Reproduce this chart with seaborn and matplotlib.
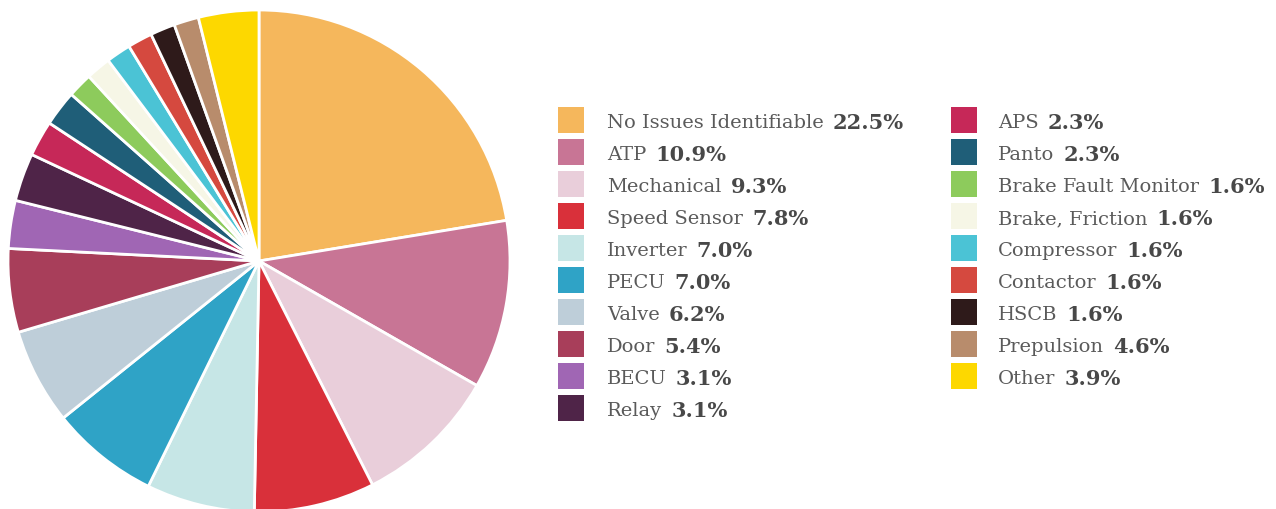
import matplotlib
matplotlib.use("Agg")
import matplotlib.pyplot as plt
import seaborn as sns
from matplotlib.patches import Rectangle

categories = ["No Issues Identifiable", "ATP", "Mechanical", "Speed Sensor", "Inverter",
              "PECU", "Valve", "Door", "BECU", "Relay", "APS", "Panto",
              "Brake Fault Monitor", "Brake, Friction", "Compressor", "Contactor",
              "HSCB", "Prepulsion", "Other"]
# slice sizes as drawn in the pie
values = [22.5, 10.9, 9.3, 7.8, 7.0, 7.0, 6.2, 5.4, 3.1, 3.1, 2.3, 2.3,
          1.6, 1.6, 1.6, 1.6, 1.6, 1.6, 3.9]
# percentages as printed in the legend
pct_labels = ["22.5%", "10.9%", "9.3%", "7.8%", "7.0%", "7.0%", "6.2%", "5.4%",
              "3.1%", "3.1%", "2.3%", "2.3%", "1.6%", "1.6%", "1.6%", "1.6%",
              "1.6%", "4.6%", "3.9%"]
colors = ["#F5B75C", "#C87595", "#E9CEDA", "#D9303A", "#C6E6E6", "#2FA3C6",
          "#BECED9", "#A83E5A", "#A066B4", "#4F2448", "#C62858", "#1F5E78",
          "#8DCB5C", "#F6F6E6", "#4BC3D5", "#D5493F", "#2E1A1A", "#B88C6C",
          "#FDD800"]

sns.set_theme(style="white")
plt.rcParams['font.family'] = ['DejaVu Serif']

W, H = 1276, 510
fig = plt.figure(figsize=(W / 100, H / 100), dpi=100)
fig.patch.set_facecolor("white")

cx, cy, r = 259, 262, 251
ax = fig.add_axes([(cx - r) / W, (H - cy - r) / H, 2 * r / W, 2 * r / H])
palette = sns.color_palette(colors)
ax.pie(values, colors=palette, startangle=90, counterclock=False, radius=1,
       wedgeprops=dict(edgecolor="white", linewidth=2.0))
ax.set_xlim(-1, 1)
ax.set_ylim(-1, 1)
ax.set_aspect("equal")
ax.axis("off")

# legend (two columns)
fig.canvas.draw()
renderer = fig.canvas.get_renderer()
row_step = 32.0
y0 = 121
cols = [(558, 607), (951, 998)]
fs = 14
for i, (name, pct, c) in enumerate(zip(categories, pct_labels, palette)):
    col = 0 if i < 10 else 1
    row = i if i < 10 else i - 10
    px, tx = cols[col]
    y = y0 + row_step * row
    fig.add_artist(Rectangle((px / W, (H - y - 13) / H), 26 / W, 26 / H,
                             transform=fig.transFigure, facecolor=c,
                             edgecolor="none"))
    t = fig.text(tx / W, (H - y) / H, name, va="center_baseline", ha="left",
                 fontsize=fs, color="#5a5a5a")
    bb = t.get_window_extent(renderer)
    fig.text((bb.x1 + 9) / W, (H - y) / H, pct, va="center_baseline", ha="left",
             fontsize=fs + 1, color="#484848", fontweight="bold")

fig.savefig("out.png", dpi=100, facecolor="white")
